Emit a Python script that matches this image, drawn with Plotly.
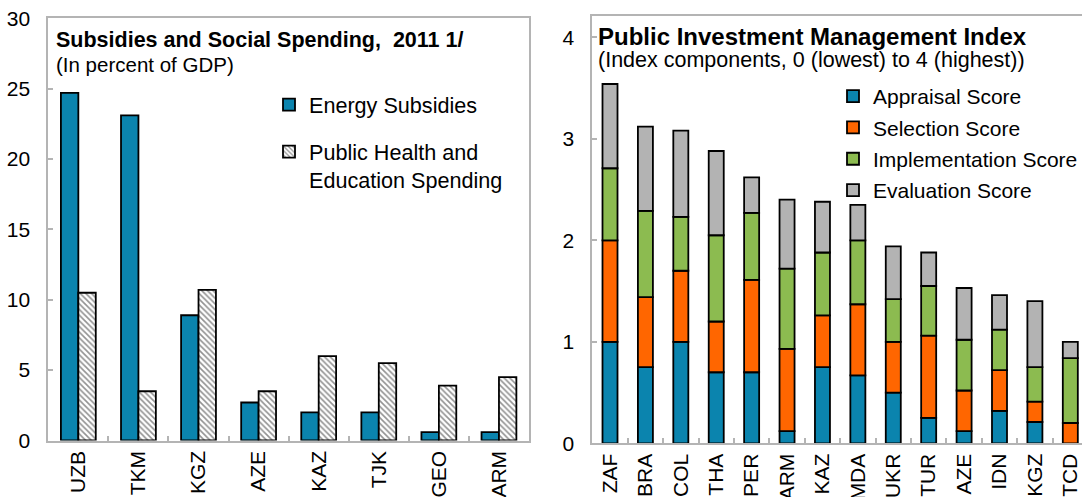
import numpy as np
import plotly.graph_objects as go

# left panel: subsidies vs social spending, % of GDP
countries_left = ["UZB", "TKM", "KGZ", "AZE", "KAZ", "TJK", "GEO", "ARM"]
energy_subsidies = [24.7, 23.1, 8.9, 2.7, 2.0, 2.0, 0.6, 0.6]
health_education = [10.5, 3.5, 10.7, 3.5, 6.0, 5.5, 3.9, 4.5]

# right panel: PIM index components
countries_right = ["ZAF", "BRA", "COL", "THA", "PER", "ARM", "KAZ", "MDA",
                   "UKR", "TUR", "AZE", "IDN", "KGZ", "TCD"]
appraisal = [1.0, 0.75, 1.0, 0.70, 0.70, 0.12, 0.75, 0.67, 0.50, 0.25, 0.12, 0.32, 0.21, 0.0]
selection = [1.0, 0.69, 0.70, 0.50, 0.91, 0.81, 0.51, 0.70, 0.50, 0.81, 0.40, 0.40, 0.20, 0.20]
implementation = [0.71, 0.85, 0.53, 0.85, 0.66, 0.79, 0.62, 0.63, 0.42, 0.49, 0.50, 0.40, 0.34, 0.64]
evaluation = [0.83, 0.83, 0.85, 0.83, 0.35, 0.68, 0.50, 0.35, 0.52, 0.33, 0.51, 0.34, 0.65, 0.16]

FONT = "Liberation Sans, Arial, sans-serif"
BLUE = "#0B84AE"
ORANGE = "#FF6600"
GREEN = "#8CBB50"
GREY = "#B3B3B3"
AXIS = "#B4B4B4"
W, H = 1082, 497

fig = go.Figure()

line = dict(color="black", width=1.8)
fig.add_trace(go.Bar(
    x=countries_left, y=energy_subsidies, name="Energy Subsidies",
    marker=dict(color=BLUE, line=line), width=0.29, offset=-0.29,
    xaxis="x", yaxis="y", legend="legend", legendgroup="a"))
fig.add_trace(go.Bar(
    x=countries_left, y=health_education, name="Public Health and<br>Education Spending",
    marker=dict(color="white", line=line,
                pattern=dict(shape="\\", fgcolor="#262626", bgcolor="white", size=4, solidity=0.4)),
    width=0.29, offset=0.0,
    xaxis="x", yaxis="y", legend="legend", legendgroup="b"))

# stacked components, drawn with explicit bases
comps = [("Appraisal Score", appraisal, BLUE),
         ("Selection Score", selection, ORANGE),
         ("Implementation Score", implementation, GREEN),
         ("Evaluation Score", evaluation, GREY)]
base = np.zeros(len(countries_right))
for i, (name, vals, col) in enumerate(comps):
    fig.add_trace(go.Bar(
        x=countries_right, y=vals, base=base.copy(), name=name,
        marker=dict(color=col, line=line), width=0.424, offset=-0.212,
        xaxis="x2", yaxis="y2", legend="legend2", legendgroup=f"g{i}"))
    base = base + np.array(vals)

def px_x(p):
    return p / W

def px_y(p):
    return 1 - p / H

tickfont = dict(family=FONT, size=21, color="black")
common_x = dict(type="category", showline=True, linecolor=AXIS, linewidth=2,
                ticks="inside", tickson="boundaries", ticklen=5, tickcolor=AXIS, tickwidth=1.5,
                tickangle=-90, tickfont=tickfont, showgrid=False, zeroline=False, fixedrange=True)
common_y = dict(showline=True, linecolor=AXIS, linewidth=2, ticks="inside", ticklen=5,
                tickcolor=AXIS, tickwidth=1.5, tickfont=tickfont, showgrid=False,
                zeroline=False, fixedrange=True)

fig.update_layout(
    width=W, height=H,
    margin=dict(l=0, r=0, t=0, b=0, autoexpand=False),
    paper_bgcolor="white", plot_bgcolor="white",
    barmode="group",
    font=dict(family=FONT, size=21, color="black"),
    xaxis=dict(common_x, domain=[px_x(48.3), px_x(529)], range=[-0.5, 7.5], mirror=True, anchor="y"),
    yaxis=dict(common_y, domain=[px_y(440.5), px_y(18.3)], range=[0, 30], dtick=5, mirror=True,
               anchor="x", ticklabelstandoff=12),
    xaxis2=dict(common_x, domain=[px_x(592.3), 1.0], range=[-0.5, 13.33], mirror=True, anchor="y2"),
    yaxis2=dict(common_y, domain=[px_y(443.3), px_y(16.3)], range=[0, 4.207], dtick=1,
                anchor="x2", ticklabelstandoff=12),
    legend=dict(x=px_x(269), y=px_y(84), xanchor="left", yanchor="top",
                bgcolor="rgba(0,0,0,0)", font=dict(family=FONT, size=21.6),
                traceorder="grouped", tracegroupgap=16, valign="top"),
    legend2=dict(x=px_x(833), y=px_y(76), xanchor="left", yanchor="top",
                 bgcolor="rgba(0,0,0,0)", font=dict(family=FONT, size=21),
                 traceorder="grouped", tracegroupgap=1),
    showlegend=True,
    annotations=[
        dict(text="<b>Subsidies and Social Spending,  2011 1/</b>", x=px_x(54), y=px_y(40),
             xref="paper", yref="paper", xanchor="left", yanchor="middle", showarrow=False,
             font=dict(family=FONT, size=21.5)),
        dict(text="(In percent of GDP)", x=px_x(54), y=px_y(65),
             xref="paper", yref="paper", xanchor="left", yanchor="middle", showarrow=False,
             font=dict(family=FONT, size=20.5)),
        dict(text="<b>Public Investment Management Index</b>", x=px_x(596), y=px_y(36),
             xref="paper", yref="paper", xanchor="left", yanchor="middle", showarrow=False,
             font=dict(family=FONT, size=24)),
        dict(text="(Index components, 0 (lowest) to 4 (highest))", x=px_x(596), y=px_y(60),
             xref="paper", yref="paper", xanchor="left", yanchor="middle", showarrow=False,
             font=dict(family=FONT, size=21.5)),
    ],
)

fig.write_html("out.html", config={"displayModeBar": False},
               post_script="document.body.style.margin='0';document.body.style.overflow='hidden';")
